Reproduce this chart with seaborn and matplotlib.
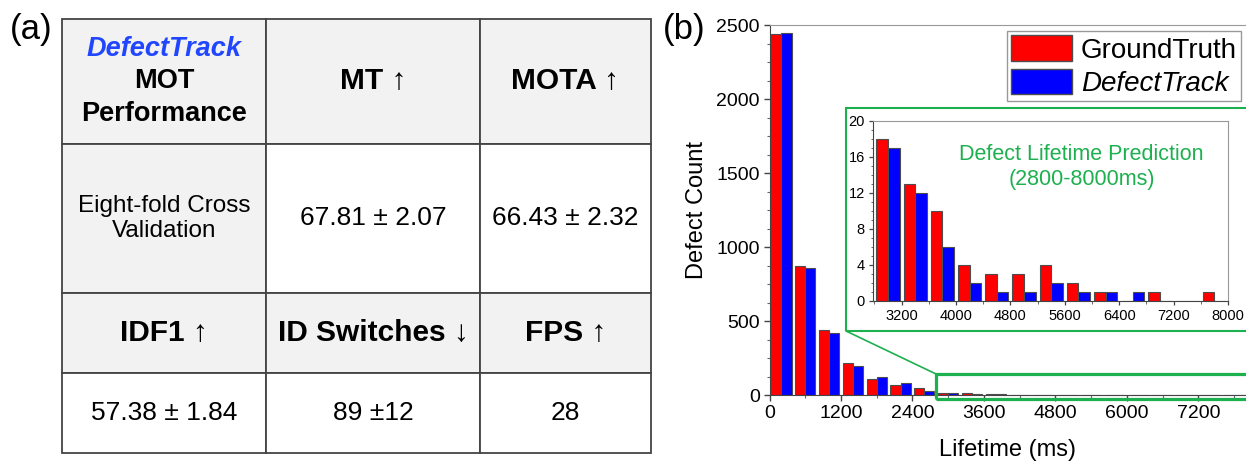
import matplotlib
matplotlib.use("Agg")
import matplotlib.pyplot as plt
import matplotlib.patches as mpatches
from matplotlib.patches import ConnectionPatch
from matplotlib.ticker import MultipleLocator
import numpy as np
import pandas as pd
import seaborn as sns

sns.set_style("ticks")
plt.rcParams.update({
    "font.family": ["Liberation Sans", "DejaVu Sans"],
    "text.color": "black",
    "axes.labelcolor": "black",
    "xtick.labelcolor": "black",
    "ytick.labelcolor": "black",
})

W, H = 1246, 461
GREEN = "#1db04f"
RED = "#ff0000"
BLUE = "#0000ff"
EDGE = "#4d4d4d"

# ── table (panel a) ─────────────────────────────────────────────────────────
header_top = ["MT ↑", "MOTA ↑"]
row_label = "Eight-fold Cross\nValidation"
row_values = ["67.81 ± 2.07", "66.43 ± 2.32"]
header_bottom = ["IDF1 ↑", "ID Switches ↓", "FPS ↑"]
bottom_values = ["57.38 ± 1.84", "89 ±12", "28"]

# ── histogram of defect lifetimes (panel b), 400 ms bins ────────────────────
bin_centers = [200, 600, 1000, 1400, 1800, 2200, 2600, 3000, 3400, 3800,
               4200, 4600, 5000, 5400, 5800, 6200, 6600, 7000, 7400, 7800]
ground_truth = [2440, 870, 444, 219, 112, 69, 51, 18, 13, 10,
                4, 3, 3, 4, 2, 1, 0, 1, 0, 1]
defect_track = [2445, 861, 421, 197, 125, 85, 29, 17, 12, 6,
                2, 1, 1, 2, 1, 1, 1, 0, 0, 0]
series_names = ["GroundTruth", "DefectTrack"]

df = pd.DataFrame({
    "lifetime": bin_centers * 2,
    "count": ground_truth + defect_track,
    "series": [series_names[0]] * len(bin_centers) + [series_names[1]] * len(bin_centers),
})

fig = plt.figure(figsize=(W / 100, H / 100), dpi=100)
fig.patch.set_facecolor("white")

# ---- table ----
col_px = [204, 214, 171]
row_px = [125, 149, 80, 80]
tax = fig.add_axes([62 / W, (H - 453) / H, sum(col_px) / W, sum(row_px) / H])
tax.axis("off")

cell_text = [[""] + header_top,
             [row_label] + row_values,
             header_bottom,
             bottom_values]
GRAY = "#f2f2f2"
cell_colours = [[GRAY, GRAY, GRAY],
                [GRAY, "white", "white"],
                [GRAY, GRAY, GRAY],
                ["white", "white", "white"]]
tbl = tax.table(cellText=cell_text, cellColours=cell_colours,
                colWidths=[c / sum(col_px) for c in col_px],
                cellLoc="center", bbox=[0, 0, 1, 1])
tbl.auto_set_font_size(False)
for (r, c), cell in tbl.get_celld().items():
    cell.set_height(row_px[r] / sum(row_px))
    cell.set_edgecolor("#444444")
    cell.set_linewidth(1.3)
    t = cell.get_text()
    t.set_color("black")
    if r in (0, 2):
        t.set_fontsize(21.5)
        t.set_fontweight("bold")
    elif r == 1 and c == 0:
        t.set_fontsize(17.5)
    else:
        t.set_fontsize(19)

cx = col_px[0] / 2 / sum(col_px)
for dy, txt, kw in [(-32.5, "DefectTrack", dict(color="#2146ff", style="italic")),
                    (0, "MOT", dict(color="black")),
                    (32.5, "Performance", dict(color="black"))]:
    y = 1 - (row_px[0] / 2 + dy) / sum(row_px)
    tax.text(cx, y, txt, ha="center", va="center", fontsize=19.5,
             fontweight="bold", transform=tax.transAxes, **kw)

fig.text(10 / W, 1 - 29 / H, "(a)", fontsize=25, ha="left", va="center")
fig.text(663 / W, 1 - 30 / H, "(b)", fontsize=25, ha="left", va="center")

# ---- main histogram ----
ax = fig.add_axes([769.5 / W, (H - 395.3) / H, (W - 769.5) / W, 370.3 / H])
sns.barplot(data=df, x="lifetime", y="count", hue="series", hue_order=series_names,
            palette=[RED, BLUE], saturation=1, native_scale=True, width=0.85,
            errorbar=None, edgecolor=EDGE, linewidth=0.8, legend=False, ax=ax)
ax.set_xlim(0, 8000)
ax.set_ylim(0, 2500)
ax.set_xticks([0, 1200, 2400, 3600, 4800, 6000, 7200])
ax.set_yticks([0, 500, 1000, 1500, 2000, 2500])
ax.xaxis.set_minor_locator(MultipleLocator(600))
ax.yaxis.set_minor_locator(MultipleLocator(125))
ax.tick_params(which="major", labelsize=14, length=4, width=1, color="#444", pad=3)
ax.tick_params(which="minor", length=2.5, width=0.8, color="#666")
ax.set_xlabel("Lifetime (ms)", fontsize=17, labelpad=12)
ax.set_ylabel("Defect Count", fontsize=17, labelpad=6)
for side in ("left", "bottom"):
    ax.spines[side].set_color("#444")
ax.spines["top"].set_visible(True)
ax.spines["top"].set_color("#999")
ax.spines["right"].set_visible(False)

handles = [mpatches.Patch(facecolor=RED, edgecolor=EDGE, label=series_names[0]),
           mpatches.Patch(facecolor=BLUE, edgecolor=EDGE, label=series_names[1])]
leg = ax.legend(handles=handles, loc="upper right",
                bbox_to_anchor=(1241 / W, (H - 31) / H), bbox_transform=fig.transFigure,
                frameon=True, fancybox=False, edgecolor="#999", framealpha=1,
                fontsize=20, borderpad=0.15, handlelength=2.2, handleheight=1.05,
                handletextpad=0.32, labelspacing=0.18, borderaxespad=0)
leg.get_texts()[1].set_fontstyle("italic")

# zoom box on the tail
zoom_top = 143
ax.add_patch(mpatches.Rectangle((2800, -25), 5600, zoom_top + 25, fill=False,
                                edgecolor=GREEN, linewidth=2.3, clip_on=False, zorder=5))

# inset frame
frame_x0, frame_y0 = 846 / W, (H - 331) / H
fig.patches.append(mpatches.Rectangle((frame_x0, frame_y0), (W + 10 - 846) / W, 223 / H,
                                      transform=fig.transFigure, fill=False,
                                      edgecolor=GREEN, linewidth=1.5))
con = ConnectionPatch(xyA=(2800, zoom_top), coordsA=ax.transData,
                      xyB=(frame_x0, frame_y0), coordsB=fig.transFigure,
                      color=GREEN, linewidth=1.2)
fig.add_artist(con)

# ---- inset histogram ----
iax = fig.add_axes([873 / W, (H - 301) / H, 355 / W, 180 / H])
sns.barplot(data=df, x="lifetime", y="count", hue="series", hue_order=series_names,
            palette=[RED, BLUE], saturation=1, native_scale=True, width=0.85,
            errorbar=None, edgecolor=EDGE, linewidth=0.8, legend=False, ax=iax)
iax.set_xlim(2780, 8000)
iax.set_ylim(0, 20)
iax.set_xticks([3200, 4000, 4800, 5600, 6400, 7200, 8000])
iax.set_yticks([0, 4, 8, 12, 16, 20])
iax.xaxis.set_minor_locator(MultipleLocator(400))
iax.yaxis.set_minor_locator(MultipleLocator(1))
iax.tick_params(which="major", labelsize=10.5, length=3, width=0.9, color="#444", pad=3)
iax.tick_params(which="minor", length=1.8, width=0.7, color="#666")
iax.set_xlabel("")
iax.set_ylabel("")
for side in ("left", "bottom"):
    iax.spines[side].set_color("#444")
for side in ("top", "right"):
    iax.spines[side].set_visible(True)
    iax.spines[side].set_color("#999")
iax.text(0.588, 0.745, "Defect Lifetime Prediction\n(2800-8000ms)", transform=iax.transAxes,
         ha="center", va="center", fontsize=15.5, color=GREEN, linespacing=1.25)

fig.savefig("out.png", dpi=100)
